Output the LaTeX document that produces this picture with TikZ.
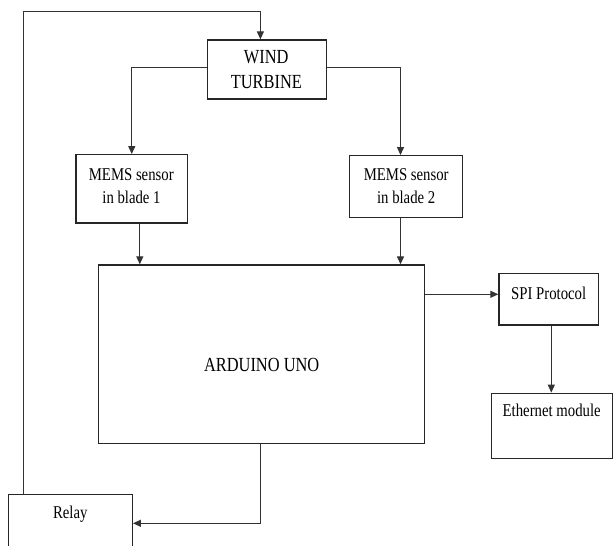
\documentclass[tikz,border=0pt]{standalone}
\usepackage{fontspec}
\newfontfamily\dfont[FakeStretch=0.82]{Liberation Serif}
\usetikzlibrary{arrows.meta}
\begin{document}
\begin{tikzpicture}[x=1pt,y=-1pt,
  box/.style={draw=black!85, line width=1.3pt, inner sep=0pt, rectangle},
  conn/.style={draw=black!80, line width=1.2pt, -{Triangle[length=8pt,width=7pt]}},
  big/.style={font=\dfont\fontsize{20}{25}\selectfont, anchor=base, inner sep=0pt, text=black},
  small/.style={font=\dfont\fontsize{18}{22}\selectfont, anchor=base, inner sep=0pt, text=black}]
\useasboundingbox (0,0) rectangle (614,546);
\clip (0,0) rectangle (614,546);
% boxes
\node[box, minimum width=118.7pt, minimum height=59pt] (wind) at (266.85,69.5) {};
\node[box, minimum width=111.5pt, minimum height=68.3pt] (mems1) at (131.75,188.85) {};
\node[box, minimum width=113.2pt, minimum height=62pt] (mems2) at (406.2,186.7) {};
\node[box, minimum width=325.8pt, minimum height=178.3pt] (ard) at (261.6,354.15) {};
\node[box, minimum width=99.3pt, minimum height=51.3pt] (spi) at (548.65,299.35) {};
\node[box, minimum width=121pt, minimum height=65pt] (eth) at (552.3,425.8) {};
\node[box, minimum width=123.7pt, minimum height=70.3pt] (relay) at (70.45,529.85) {};
% texts
\node[big] (windt1) at (266.2,63.3) {WIND};
\node[big] (windt2) at (266.4,88.3) {TURBINE};
\node[small] (m1t1) at (131.3,180) {MEMS sensor};
\node[small] (m1t2) at (131.5,203.3) {in blade 1};
\node[small] (m2t1) at (406.2,180) {MEMS sensor};
\node[small] (m2t2) at (406.2,203.3) {in blade 2};
\node[big] (ardt) at (261.7,371) {ARDUINO UNO};
\node[small] (spit) at (548.7,299) {SPI Protocol};
\node[small] (etht) at (551.7,416) {Ethernet module};
\node[small] (relt) at (70.3,518.3) {Relay};
% helper coordinates
\coordinate (fb1) at (23.5,11.7);
\coordinate (fb2) at (260.4,11.7);
\coordinate (b2) at (400.5,67.7);
\coordinate (m1x) at (139.8,0);
\coordinate (sy) at (0,294.3);
\coordinate (ex) at (551.3,0);
\coordinate (ry) at (0,523.3);
% connectors
\draw[conn] (relay.north -| fb1) -- (fb1) -- (fb2) -- (wind.north -| fb2);
\draw[conn] ([yshift=1.8pt]wind.west) -| (mems1.north);
\draw[conn] ([yshift=1.8pt]wind.east) -| (b2 |- mems2.north);
\draw[conn] (mems1.south -| m1x) -- (ard.north -| m1x);
\draw[conn] (mems2.south -| b2) -- (ard.north -| b2);
\draw[conn] (ard.east |- sy) -- (spi.west |- sy);
\draw[conn] (spi.south -| ex) -- (eth.north -| ex);
\draw[conn] (ard.south -| fb2) |- (relay.east |- ry);
\end{tikzpicture}
\end{document}
